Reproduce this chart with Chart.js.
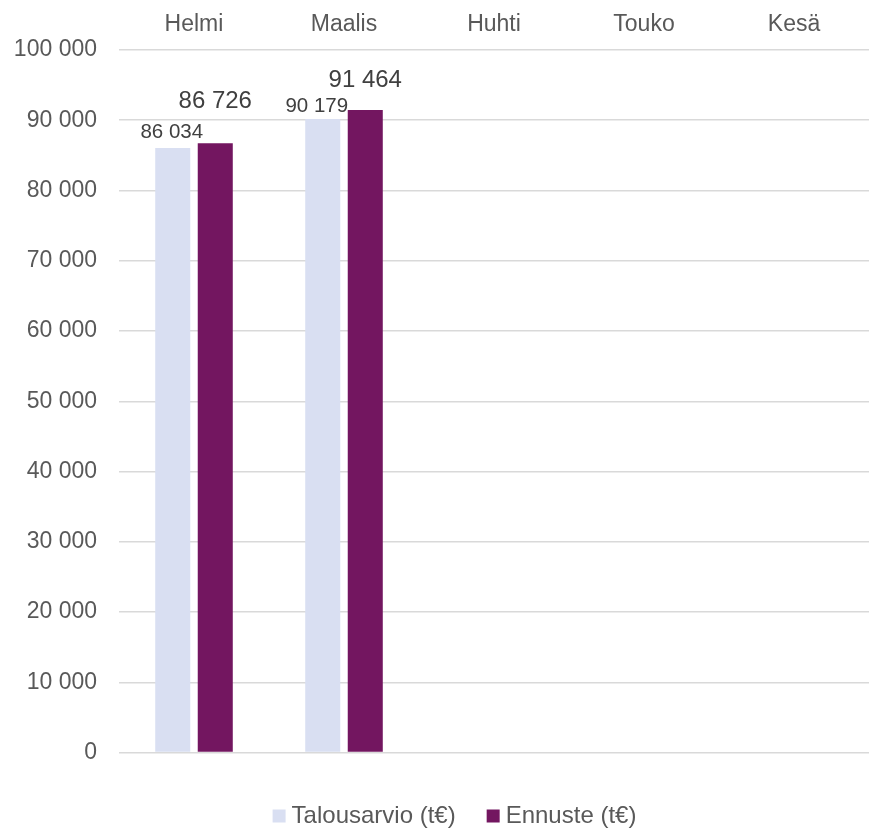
<!DOCTYPE html>
<html><head><meta charset="utf-8">
<script src="https://cdn.jsdelivr.net/npm/chart.js@4.4.1/dist/chart.umd.min.js"></script>
<style>html,body{margin:0;padding:0;background:#fff;} #wrap{width:869px;height:830px;position:relative;}</style>
</head><body><div id="wrap"><canvas id="c"></canvas></div>
<script>
const categories = ['Helmi', 'Maalis', 'Huhti', 'Touko', 'Kesä'];
const talousarvio = [86034, 90179, null, null, null];
const ennuste = [86726, 91464, null, null, null];
const seriesNames = ['Talousarvio (t€)', 'Ennuste (t€)'];
const yMin = 0, yMax = 100000, yStep = 10000;

const FONT = '"Liberation Sans", Arial, sans-serif';
function fmt(v) { return String(Math.round(v)).replace(/\B(?=(\d{3})+(?!\d))/g, ' '); }

const labelPlugin = {
  id: 'valueLabels',
  afterDatasetsDraw(chart, args, opts) {
    const ctx = chart.ctx;
    chart.data.datasets.forEach((ds, di) => {
      const meta = chart.getDatasetMeta(di);
      const st = opts.styles[di];
      meta.data.forEach((el, i) => {
        const v = ds.data[i];
        if (v == null) return;
        const off = (st.offsets && st.offsets[i]) || [0, 0];
        ctx.save();
        ctx.font = st.size + 'px ' + FONT;
        ctx.fillStyle = st.color;
        ctx.textAlign = 'center';
        ctx.textBaseline = 'alphabetic';
        ctx.fillText(fmt(v), el.x + off[0], el.y - off[1]);
        ctx.restore();
      });
    });
  }
};

const legendShift = {
  id: 'legendShift',
  afterLayout(chart, args, opts) {
    if (chart.legend) { chart.legend.left += opts.dx; chart.legend.right += opts.dx; }
  }
};

new Chart(document.getElementById('c'), {
  type: 'bar',
  data: {
    labels: categories,
    datasets: [
      { label: seriesNames[0], data: talousarvio, backgroundColor: '#D9DFF2', categoryPercentage: 0.567, barPercentage: 0.824 },
      { label: seriesNames[1], data: ennuste, backgroundColor: '#731660', categoryPercentage: 0.567, barPercentage: 0.824 }
    ]
  },
  plugins: [labelPlugin, legendShift],
  options: {
    responsive: true,
    maintainAspectRatio: false,
    animation: false,
    layout: { padding: { left: 0, right: 0, top: 0, bottom: -8 } },
    plugins: {
      legendShift: { dx: 23 },
      legend: {
        position: 'bottom',
        title: { display: true, text: '', font: { size: 10 }, padding: { top: 2.5, bottom: 0 } },
        labels: {
          color: '#595959', font: { family: FONT, size: 24 },
          usePointStyle: true, pointStyle: 'rect', boxWidth: 1, boxHeight: 13, padding: 37
        }
      },
      tooltip: { enabled: false },
      valueLabels: {
        styles: [
          { size: 20.5, color: '#404040', offsets: [[-1, 10], [-6, 7]] },
          { size: 24, color: '#404040', offsets: [[0, 35], [0, 23]] }
        ]
      }
    },
    scales: {
      x: {
        position: 'top',
        grid: { display: false, drawTicks: false },
        border: { display: false },
        ticks: { color: '#595959', font: { family: FONT, size: 23 }, padding: 12 },
        afterFit(s) { s.height = 50; }
      },
      y: {
        min: yMin, max: yMax,
        grid: { color: '#D9D9D9', lineWidth: 1.5, drawTicks: false },
        border: { display: false },
        ticks: { stepSize: yStep, color: '#595959', font: { family: FONT, size: 23 }, padding: 22, callback: v => fmt(v) },
        afterFit(s) { s.width = 119; }
      }
    }
  }
});
</script></body></html>
